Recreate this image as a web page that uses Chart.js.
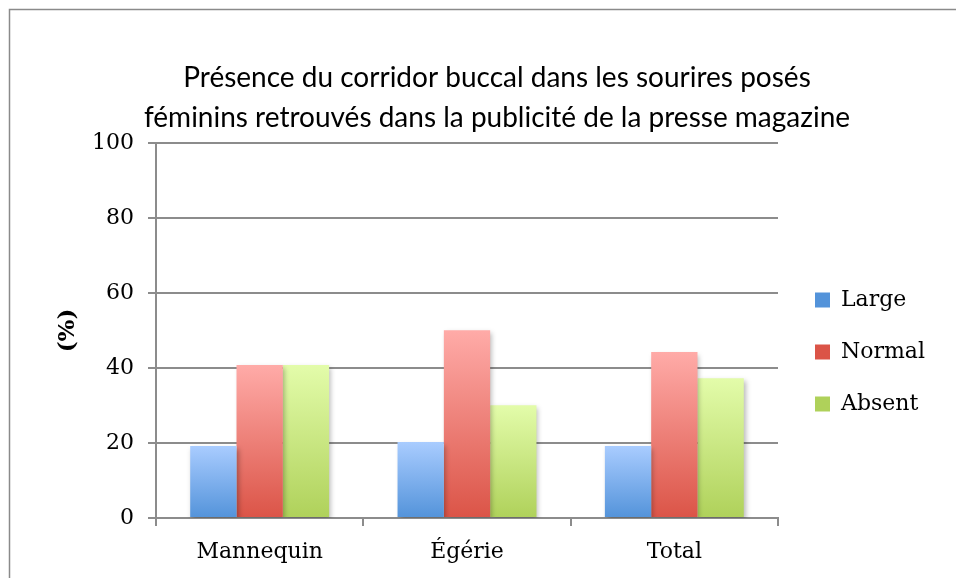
<!DOCTYPE html>
<html>
<head>
<meta charset="utf-8">
<script src="https://cdn.jsdelivr.net/npm/chart.js@4.4.1/dist/chart.umd.min.js"></script>
<style>
  html, body { margin: 0; padding: 0; background: #fff; }
  #wrap { width: 956px; height: 578px; position: relative; }
</style>
</head>
<body>
<div id="wrap"><canvas id="grafico" width="956" height="578"></canvas></div>
<script>
// donnees
var categories = ['Mannequin', 'Égérie', 'Total'];
var large = [19.2, 20.3, 19.2];
var normal = [40.8, 50.1, 44.3];
var absent = [40.8, 30.1, 37.3];
var yTicks = [0, 20, 40, 60, 80, 100];

var couleurs = {
    large: ['#a9ccff', '#5393da'],
    normal: ['#ffaba8', '#db5447'],
    absent: ['#e3fcaa', '#afd15a']
};

// degrade vertical pour chaque barre
function degrade(c) {
    return function(context) {
        var chart = context.chart;
        var y = chart.scales.y;
        if (!y || context.raw == null) return c[1];
        var top = y.getPixelForValue(context.raw);
        var base = y.getPixelForValue(0);
        if (!isFinite(top) || !isFinite(base) || top === base) return c[1];
        var g = chart.ctx.createLinearGradient(0, top, 0, base);
        g.addColorStop(0, c[0]);
        g.addColorStop(1, c[1]);
        return g;
    };
}

var serif = "'DejaVu Serif', serif";
var gris = '#8c8c8c';

var pluginCadre = {
    id: 'cadre',
    afterInit: function(chart) {
        var lg = chart.legend;
        var fitOrig = lg.fit;
        lg.fit = function() {
            fitOrig.call(this);
            this.width = 178;
        };
    },
    afterLayout: function(chart) {
        chart.legend.left += 7;
        chart.legend.right += 7;
        chart.legend.top += 63;
        chart.legend.bottom += 63;
    },
    beforeDatasetsDraw: function(chart) {
        var ctx = chart.ctx;
        ctx.save();
        ctx.shadowColor = 'rgba(0,0,0,0.28)';
        ctx.shadowBlur = 5;
        ctx.shadowOffsetX = 2;
        ctx.shadowOffsetY = 3;
    },
    afterDatasetsDraw: function(chart) {
        chart.ctx.restore();
    },
    afterDraw: function(chart) {
        var ctx = chart.ctx;
        ctx.save();
        ctx.strokeStyle = '#8a8a8a';
        ctx.lineWidth = 1.5;
        ctx.strokeRect(9.5, 9.5, 960, 600);
        ctx.restore();
    }
};

var chartGraph = new Chart(document.getElementById('grafico'), {
    type: 'bar',
    data: {
        labels: categories,
        datasets: [{
            label: 'Large',
            data: large,
            backgroundColor: degrade(couleurs.large)
        }, {
            label: 'Normal',
            data: normal,
            backgroundColor: degrade(couleurs.normal)
        }, {
            label: 'Absent',
            data: absent,
            backgroundColor: degrade(couleurs.absent)
        }]
    },
    options: {
        responsive: false,
        animation: false,
        devicePixelRatio: 1,
        layout: { padding: { left: 38, right: 0, top: 0, bottom: 0 } },
        datasets: {
            bar: { categoryPercentage: 0.67, barPercentage: 1.0, borderWidth: 0 }
        },
        plugins: {
            title: {
                display: true,
                text: ['Présence du corridor buccal dans les sourires posés',
                       'féminins retrouvés dans la publicité de la presse magazine'],
                font: { family: 'Lato', size: 28, weight: 'normal', lineHeight: 1.43 },
                color: '#000',
                padding: { top: 58, bottom: 5 }
            },
            legend: {
                position: 'right',
                labels: {
                    boxWidth: 15,
                    boxHeight: 15,
                    padding: 30,
                    color: '#000',
                    font: { family: serif, size: 22 },
                    generateLabels: function(chart) {
                        var cols = [couleurs.large, couleurs.normal, couleurs.absent];
                        return chart.data.datasets.map(function(ds, i) {
                            return {
                                text: ds.label,
                                fillStyle: cols[i][1],
                                strokeStyle: cols[i][1],
                                lineWidth: 0,
                                datasetIndex: i
                            };
                        });
                    }
                }
            },
            tooltip: { enabled: false }
        },
        scales: {
            x: {
                afterFit: function(scale) { scale.height = 60; },
                grid: {
                    offset: true,
                    drawOnChartArea: false,
                    drawTicks: true,
                    tickLength: 8,
                    color: gris,
                    lineWidth: 2
                },
                border: { color: gris, width: 2 },
                ticks: {
                    color: '#000',
                    padding: 13,
                    font: { family: serif, size: 22 }
                }
            },
            y: {
                min: 0,
                max: 100,
                afterFit: function(scale) { scale.width = 118; },
                afterBuildTicks: function(scale) {
                    scale.ticks = yTicks.map(function(v) { return { value: v }; });
                },
                grid: {
                    color: gris,
                    lineWidth: 2,
                    tickLength: 8
                },
                border: { color: gris, width: 2 },
                ticks: {
                    color: '#000',
                    padding: 14,
                    font: { family: serif, size: 22 }
                },
                title: {
                    display: true,
                    text: '(%)',
                    color: '#000',
                    font: { family: serif, size: 23, weight: 'bold' },
                    padding: { top: 16, bottom: 0 }
                }
            }
        }
    },
    plugins: [pluginCadre]
});
</script>
</body>
</html>
